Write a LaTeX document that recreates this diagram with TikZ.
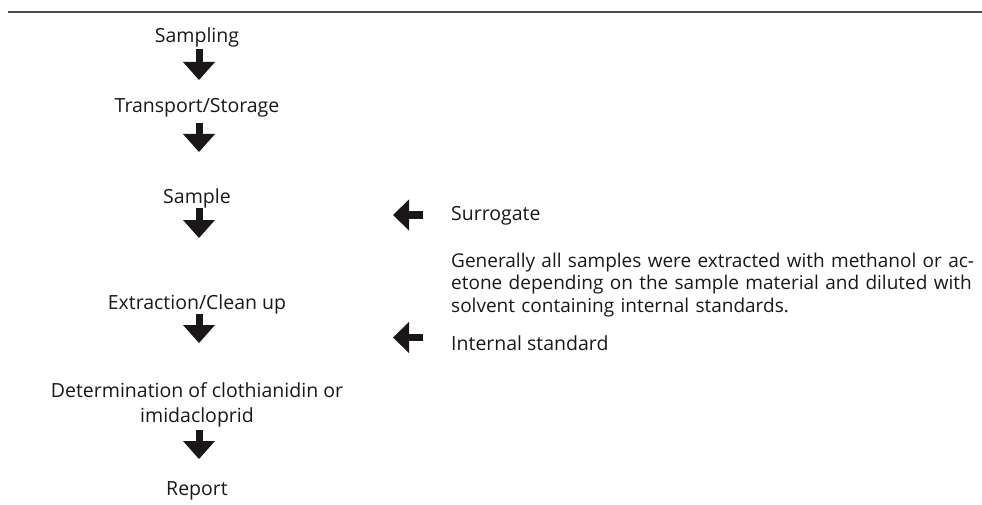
\documentclass[tikz,border=0pt]{standalone}
\usepackage{fontspec}
\setmainfont{Open Sans}
\usetikzlibrary{arrows.meta}
\definecolor{ink}{HTML}{1A1718}
\begin{document}
\begin{tikzpicture}[x=1pt,y=-1pt,
  lbl/.style={font=\fontsize{19.5}{25}\selectfont, text=ink, inner sep=0pt, anchor=base},
  downarr/.style={draw=ink, line width=7pt, -{Triangle[width=32pt,length=18pt,line width=0pt]}},
  leftarr/.style={draw=ink, line width=7pt, -{Triangle[width=31pt,length=16pt,line width=0pt]}}]
\useasboundingbox (0,0) rectangle (982,505);
\draw[line width=1.3pt, draw=black!70] (8,12) -- (982,12);
% left column
\node[lbl] (sampling) at (197,43) {Sampling};
\node[lbl] (transport) at (197,113) {Transport/Storage};
\node[lbl] (sample) at (197,204) {Sample};
\node[lbl] (extraction) at (197,309) {Extraction/Clean up};
\node[lbl, align=center] (determ) at (197,422) {Determination of clothianidin or\\imidacloprid};
\node[lbl] (report) at (197,495) {Report};
\coordinate (a1s) at (199,49);  \coordinate (a1e) at (199,80);
\coordinate (a2s) at (199,123); \coordinate (a2e) at (199,152);
\coordinate (a3s) at (199,208); \coordinate (a3e) at (199,238);
\coordinate (a4s) at (199,314); \coordinate (a4e) at (199,343);
\coordinate (a5s) at (199,430); \coordinate (a5e) at (199,459);
\draw[downarr] (a1s) -- (a1e);
\draw[downarr] (a2s) -- (a2e);
\draw[downarr] (a3s) -- (a3e);
\draw[downarr] (a4s) -- (a4e);
\draw[downarr] (a5s) -- (a5e);
% right column
\node[lbl, anchor=base west] (surrogate) at (451,220) {Surrogate};
\node[lbl, anchor=base west, text width=528pt, align=left,
      font=\fontsize{19}{22.5}\selectfont] (note) at (451,267)
  {\makebox[528pt][s]{Generally all samples were extracted with methanol or ac-}\\
   \makebox[528pt][s]{etone depending on the sample material and diluted with}\\
   solvent containing internal standards.};
\node[lbl, anchor=base west] (internal) at (451,350) {Internal standard};
\coordinate (l1s) at (423,215);   \coordinate (l1e) at (393,215);
\coordinate (l2s) at (423,337.5); \coordinate (l2e) at (393,337.5);
\draw[leftarr] (l1s) -- (l1e);
\draw[leftarr] (l2s) -- (l2e);
\end{tikzpicture}
\end{document}
